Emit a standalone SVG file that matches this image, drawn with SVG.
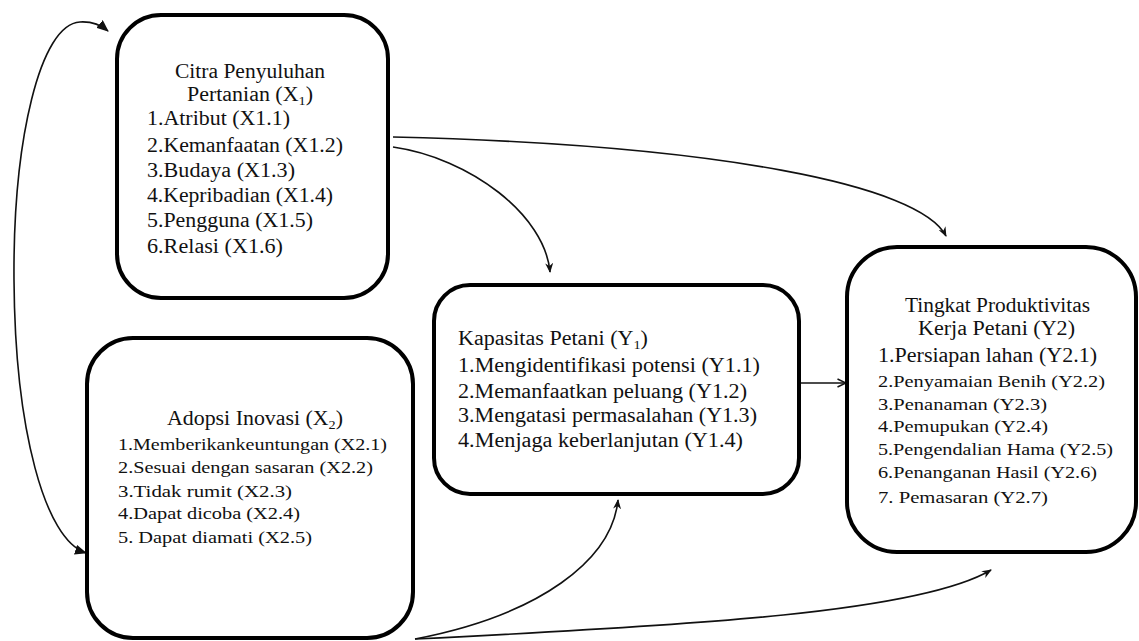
<svg xmlns="http://www.w3.org/2000/svg" width="1139" height="641" viewBox="0 0 1139 641">
<style>
.box{fill:#fff;stroke:#000;stroke-width:4}
.t{font-family:"Liberation Serif","Times New Roman",serif;fill:#111}
.b{font-size:20px}
.s{font-size:16px}
.con{fill:none;stroke:#111;stroke-width:1.6}
</style>
<defs>
<marker id="big" viewBox="0 0 12 10" refX="11" refY="5" markerWidth="12" markerHeight="10" markerUnits="userSpaceOnUse" orient="auto-start-reverse">
<path d="M0 0 L12 5 L0 10 Z" fill="#111"/>
</marker>
<marker id="sm" viewBox="0 0 10 8" refX="9" refY="4" markerWidth="10" markerHeight="8" markerUnits="userSpaceOnUse" orient="auto">
<path d="M0 0 L10 4 L0 8 L3 4 Z" fill="#111"/>
</marker>
<marker id="open" viewBox="0 0 10 10" refX="9.5" refY="5" markerWidth="10" markerHeight="10" markerUnits="userSpaceOnUse" orient="auto">
<path d="M1 1 L9.5 5 L1 9" fill="none" stroke="#111" stroke-width="1.5"/>
</marker>
</defs>
<g id="connectors">
<path class="con" d="M108 31 Q96 21 80 22 C40 24 13 140 14 280 C15 430 45 540 86 553" marker-start="url(#big)" marker-end="url(#big)"/>
<path class="con" d="M393 137 C720 145 920 185 946 236" marker-end="url(#sm)"/>
<path class="con" d="M393 147 C470 158 545 215 550 272" marker-end="url(#sm)"/>
<path class="con" d="M415 639 C540 615 612 560 618 500" marker-end="url(#sm)"/>
<path class="con" d="M415 639 C700 625 920 612 991 570" marker-end="url(#sm)"/>
<path class="con" d="M799 383 L846 383" marker-end="url(#open)"/>
</g>
<g id="node-x1">
<rect class="box" x="117" y="15" width="271" height="283" rx="44"/>
<text class="t b" x="175" y="78" textLength="150" lengthAdjust="spacingAndGlyphs">Citra Penyuluhan</text>
<text class="t b" x="187" y="101" textLength="126" lengthAdjust="spacingAndGlyphs">Pertanian (X<tspan font-size="13" dy="4">1</tspan><tspan dy="-4">)</tspan></text>
<text class="t b" x="147" y="125" textLength="143" lengthAdjust="spacingAndGlyphs">1.Atribut (X1.1)</text>
<text class="t b" x="147" y="152" textLength="196" lengthAdjust="spacingAndGlyphs">2.Kemanfaatan  (X1.2)</text>
<text class="t b" x="147" y="177" textLength="148" lengthAdjust="spacingAndGlyphs">3.Budaya (X1.3)</text>
<text class="t b" x="147" y="202" textLength="186" lengthAdjust="spacingAndGlyphs">4.Kepribadian  (X1.4)</text>
<text class="t b" x="147" y="227" textLength="166" lengthAdjust="spacingAndGlyphs">5.Pengguna (X1.5)</text>
<text class="t b" x="147" y="253" textLength="136" lengthAdjust="spacingAndGlyphs">6.Relasi (X1.6)</text>
</g>
<g id="node-x2">
<rect class="box" x="87" y="338" width="326" height="300" rx="46"/>
<text class="t b" x="167" y="425" textLength="176" lengthAdjust="spacingAndGlyphs">Adopsi Inovasi (X<tspan font-size="13" dy="4">2</tspan><tspan dy="-4">)</tspan></text>
<text class="t s" x="118" y="450" textLength="269" lengthAdjust="spacingAndGlyphs">1.Memberikankeuntungan (X2.1)</text>
<text class="t s" x="118" y="473" textLength="255" lengthAdjust="spacingAndGlyphs">2.Sesuai dengan sasaran (X2.2)</text>
<text class="t s" x="118" y="497" textLength="174" lengthAdjust="spacingAndGlyphs">3.Tidak rumit (X2.3)</text>
<text class="t s" x="118" y="519" textLength="182" lengthAdjust="spacingAndGlyphs">4.Dapat dicoba (X2.4)</text>
<text class="t s" x="118" y="543" textLength="194" lengthAdjust="spacingAndGlyphs">5. Dapat diamati (X2.5)</text>
</g>
<g id="node-y1">
<rect class="box" x="434" y="285" width="365" height="209" rx="36"/>
<text class="t b" x="458" y="345" textLength="190" lengthAdjust="spacingAndGlyphs">Kapasitas Petani (Y<tspan font-size="13" dy="4">1</tspan><tspan dy="-4">)</tspan></text>
<text class="t b" x="458" y="372" textLength="302" lengthAdjust="spacingAndGlyphs">1.Mengidentifikasi potensi (Y1.1)</text>
<text class="t b" x="458" y="398" textLength="289" lengthAdjust="spacingAndGlyphs">2.Memanfaatkan peluang (Y1.2)</text>
<text class="t b" x="458" y="422" textLength="299" lengthAdjust="spacingAndGlyphs">3.Mengatasi permasalahan (Y1.3)</text>
<text class="t b" x="458" y="447" textLength="285" lengthAdjust="spacingAndGlyphs">4.Menjaga keberlanjutan  (Y1.4)</text>
</g>
<g id="node-y2">
<rect class="box" x="847" y="247" width="289" height="305" rx="50"/>
<text class="t b" x="905" y="312" textLength="185" lengthAdjust="spacingAndGlyphs">Tingkat Produktivitas</text>
<text class="t b" x="918" y="335" textLength="157" lengthAdjust="spacingAndGlyphs">Kerja Petani (Y2)</text>
<text class="t b" x="878" y="362" textLength="219" lengthAdjust="spacingAndGlyphs">1.Persiapan lahan  (Y2.1)</text>
<text class="t s" x="878" y="387" textLength="227" lengthAdjust="spacingAndGlyphs">2.Penyamaian Benih (Y2.2)</text>
<text class="t s" x="878" y="410" textLength="169" lengthAdjust="spacingAndGlyphs">3.Penanaman (Y2.3)</text>
<text class="t s" x="878" y="432" textLength="170" lengthAdjust="spacingAndGlyphs">4.Pemupukan (Y2.4)</text>
<text class="t s" x="878" y="455" textLength="235" lengthAdjust="spacingAndGlyphs">5.Pengendalian Hama (Y2.5)</text>
<text class="t s" x="878" y="478" textLength="219" lengthAdjust="spacingAndGlyphs">6.Penanganan Hasil (Y2.6)</text>
<text class="t s" x="878" y="503" textLength="170" lengthAdjust="spacingAndGlyphs">7. Pemasaran (Y2.7)</text>
</g>
</svg>
